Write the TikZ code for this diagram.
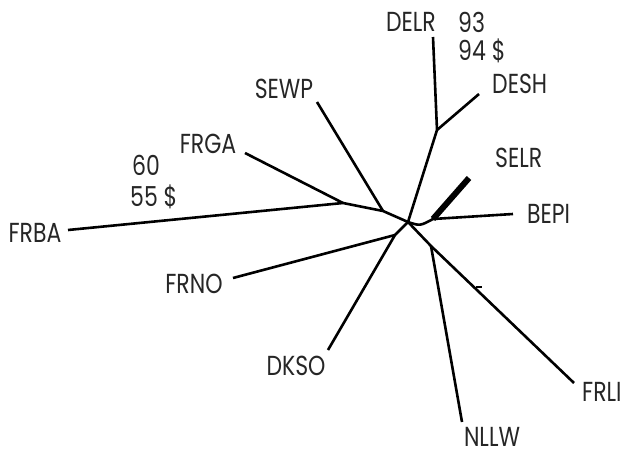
\documentclass[tikz,border=0pt]{standalone}
\usepackage{fontspec}
\setmainfont{Poppins}[FakeStretch=0.8]
\begin{document}
\begin{tikzpicture}[x=1pt,y=-1pt,
  edge/.style={line width=2.6pt,line cap=butt,line join=round},
  thickedge/.style={line width=6pt,line cap=butt},
  lab/.style={inner sep=0pt,font=\fontsize{27.5}{30}\selectfont,text=black!85}]
\useasboundingbox (0,0) rectangle (621,452);
% tree coordinates
\coordinate (C) at (408,222);
\coordinate (dj) at (437,130);
\coordinate (delr) at (433,37);
\coordinate (desh) at (479,94);
\coordinate (sj) at (383,211);
\coordinate (sewp) at (317,102);
\coordinate (fj) at (343,203);
\coordinate (frga) at (245,153);
\coordinate (frba) at (68,230);
\coordinate (nj) at (395,235);
\coordinate (frno) at (233,278);
\coordinate (dkso) at (328,350);
\coordinate (bj) at (433,219);
\coordinate (selr) at (469,178);
\coordinate (bepi) at (513,214);
\coordinate (lj) at (431,246);
\coordinate (frli) at (574,383);
\coordinate (nllw) at (462,422);
\coordinate (tk1) at (476,287);
\coordinate (tk2) at (482,287);
% edges
\draw[edge] (delr) -- (dj) -- (C);
\draw[edge] (desh) -- (dj);
\draw[edge] (frba) -- (fj) -- (sj) -- (C);
\draw[edge] (frga) -- (fj);
\draw[edge] (sewp) -- (sj);
\draw[edge] (dkso) -- (nj) -- (C);
\draw[edge] (frno) -- (nj);
\draw[edge] (C) .. controls (420,226) .. (bj) -- (bepi);
\draw[thickedge] (bj) -- (selr);
\draw[edge] (C) -- (lj) -- (frli);
\draw[edge] (lj) -- (nllw);
\draw[line width=1.5pt] (tk1) -- (tk2);
% labels
\node[lab,anchor=base] (lDELR) at (411,32) {DELR};
\node[lab,anchor=base west] (l93) at (458,33) {93};
\node[lab,anchor=base west] (l94) at (458,61) {94 \$};
\node[lab,anchor=base west] (lDESH) at (492,93) {DESH};
\node[lab,anchor=base] (lSEWP) at (284,99) {SEWP};
\node[lab,anchor=base west] (lSELR) at (495,167) {SELR};
\node[lab,anchor=base west] (lBEPI) at (527,223) {BEPI};
\node[lab,anchor=base west] (lFRLI) at (582,401) {FRLI};
\node[lab,anchor=base] (lNLLW) at (492,446) {NLLW};
\node[lab,anchor=base] (lDKSO) at (296,375) {DKSO};
\node[lab,anchor=base] (lFRNO) at (194,293) {FRNO};
\node[lab,anchor=base] (lFRBA) at (35,242) {FRBA};
\node[lab,anchor=base] (lFRGA) at (208,153) {FRGA};
\node[lab,anchor=base west] (l60) at (132,175) {60};
\node[lab,anchor=base west] (l55) at (130,206) {55 \$};
\end{tikzpicture}
\end{document}
